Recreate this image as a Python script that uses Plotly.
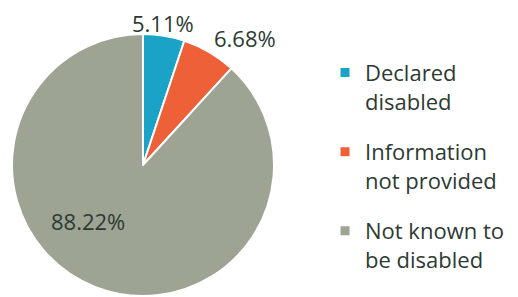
import math
import plotly.graph_objects as go

categories = ["Declared<br>disabled", "Information<br>not provided", "Not known to<br>be disabled"]
values = [5.11, 6.68, 88.22]
colors = ["#1ba3c7", "#ee6037", "#9ea493"]
label_text = [f"{v:.2f}%" for v in values]

# label placement styles: (radial factor, angle adjust deg, inside?)
label_style = [(0.975, 0, False), (1.0, 2, False), (0.6, 23, True)]

W, H = 518, 297
OFF = 8  # page body margin in the browser
CX, CY, R = 143 - OFF, 165 - OFF, 131  # pie centre / radius in px
dom_x = [(CX - R) / W, (CX + R) / W]
dom_y = [1 - (CY + R) / H, 1 - (CY - R) / H]

fig = go.Figure()
fig.add_trace(go.Pie(
    labels=categories,
    values=values,
    textinfo="none",
    sort=False,
    direction="clockwise",
    rotation=0,
    marker=dict(colors=colors, line=dict(color="white", width=2)),
    domain=dict(x=dom_x, y=dom_y),
    hoverinfo="skip",
    showlegend=False,
))

# legend entries built from the same categories/colours
for i, (cat, col) in enumerate(zip(categories, colors)):
    fig.add_trace(go.Scatter(
        x=[None], y=[None], mode="markers", name=cat,
        marker=dict(symbol="square", size=9, color=col),
        legendgroup=f"g{i}", showlegend=True,
    ))

total = sum(values)
cum = 0.0
for v, txt, (f, adj, inside) in zip(values, label_text, label_style):
    mid = (cum + v / 2) / total * 360.0 + adj
    cum += v
    a = math.radians(mid)
    px = CX + R * f * math.sin(a)
    py = CY - R * f * math.cos(a)
    if inside:
        xa, ya = "center", "middle"
    else:
        s = math.sin(a)
        xa = "left" if s > 0.3 else ("right" if s < -0.3 else "center")
        ya = "bottom" if math.cos(a) > 0 else "top"
    fig.add_annotation(
        x=px / W, y=1 - py / H, xref="paper", yref="paper",
        text=txt, showarrow=False, xanchor=xa, yanchor=ya,
        borderpad=0,
        font=dict(family="Open Sans", size=22, color="#2d3a33"),
    )

fig.update_layout(
    width=W, height=H,
    margin=dict(l=0, r=0, t=0, b=0),
    paper_bgcolor="white",
    plot_bgcolor="white",
    xaxis=dict(visible=False, domain=[0.9, 1.0]),
    yaxis=dict(visible=False),
    showlegend=True,
    legend=dict(
        x=0.612, y=0.853, xanchor="left", yanchor="top",
        font=dict(family="Open Sans", size=22, color="#2d3a33"),
        valign="top",
        tracegroupgap=19,
        bgcolor="rgba(0,0,0,0)",
    ),
)

fig.write_html("out.html")
